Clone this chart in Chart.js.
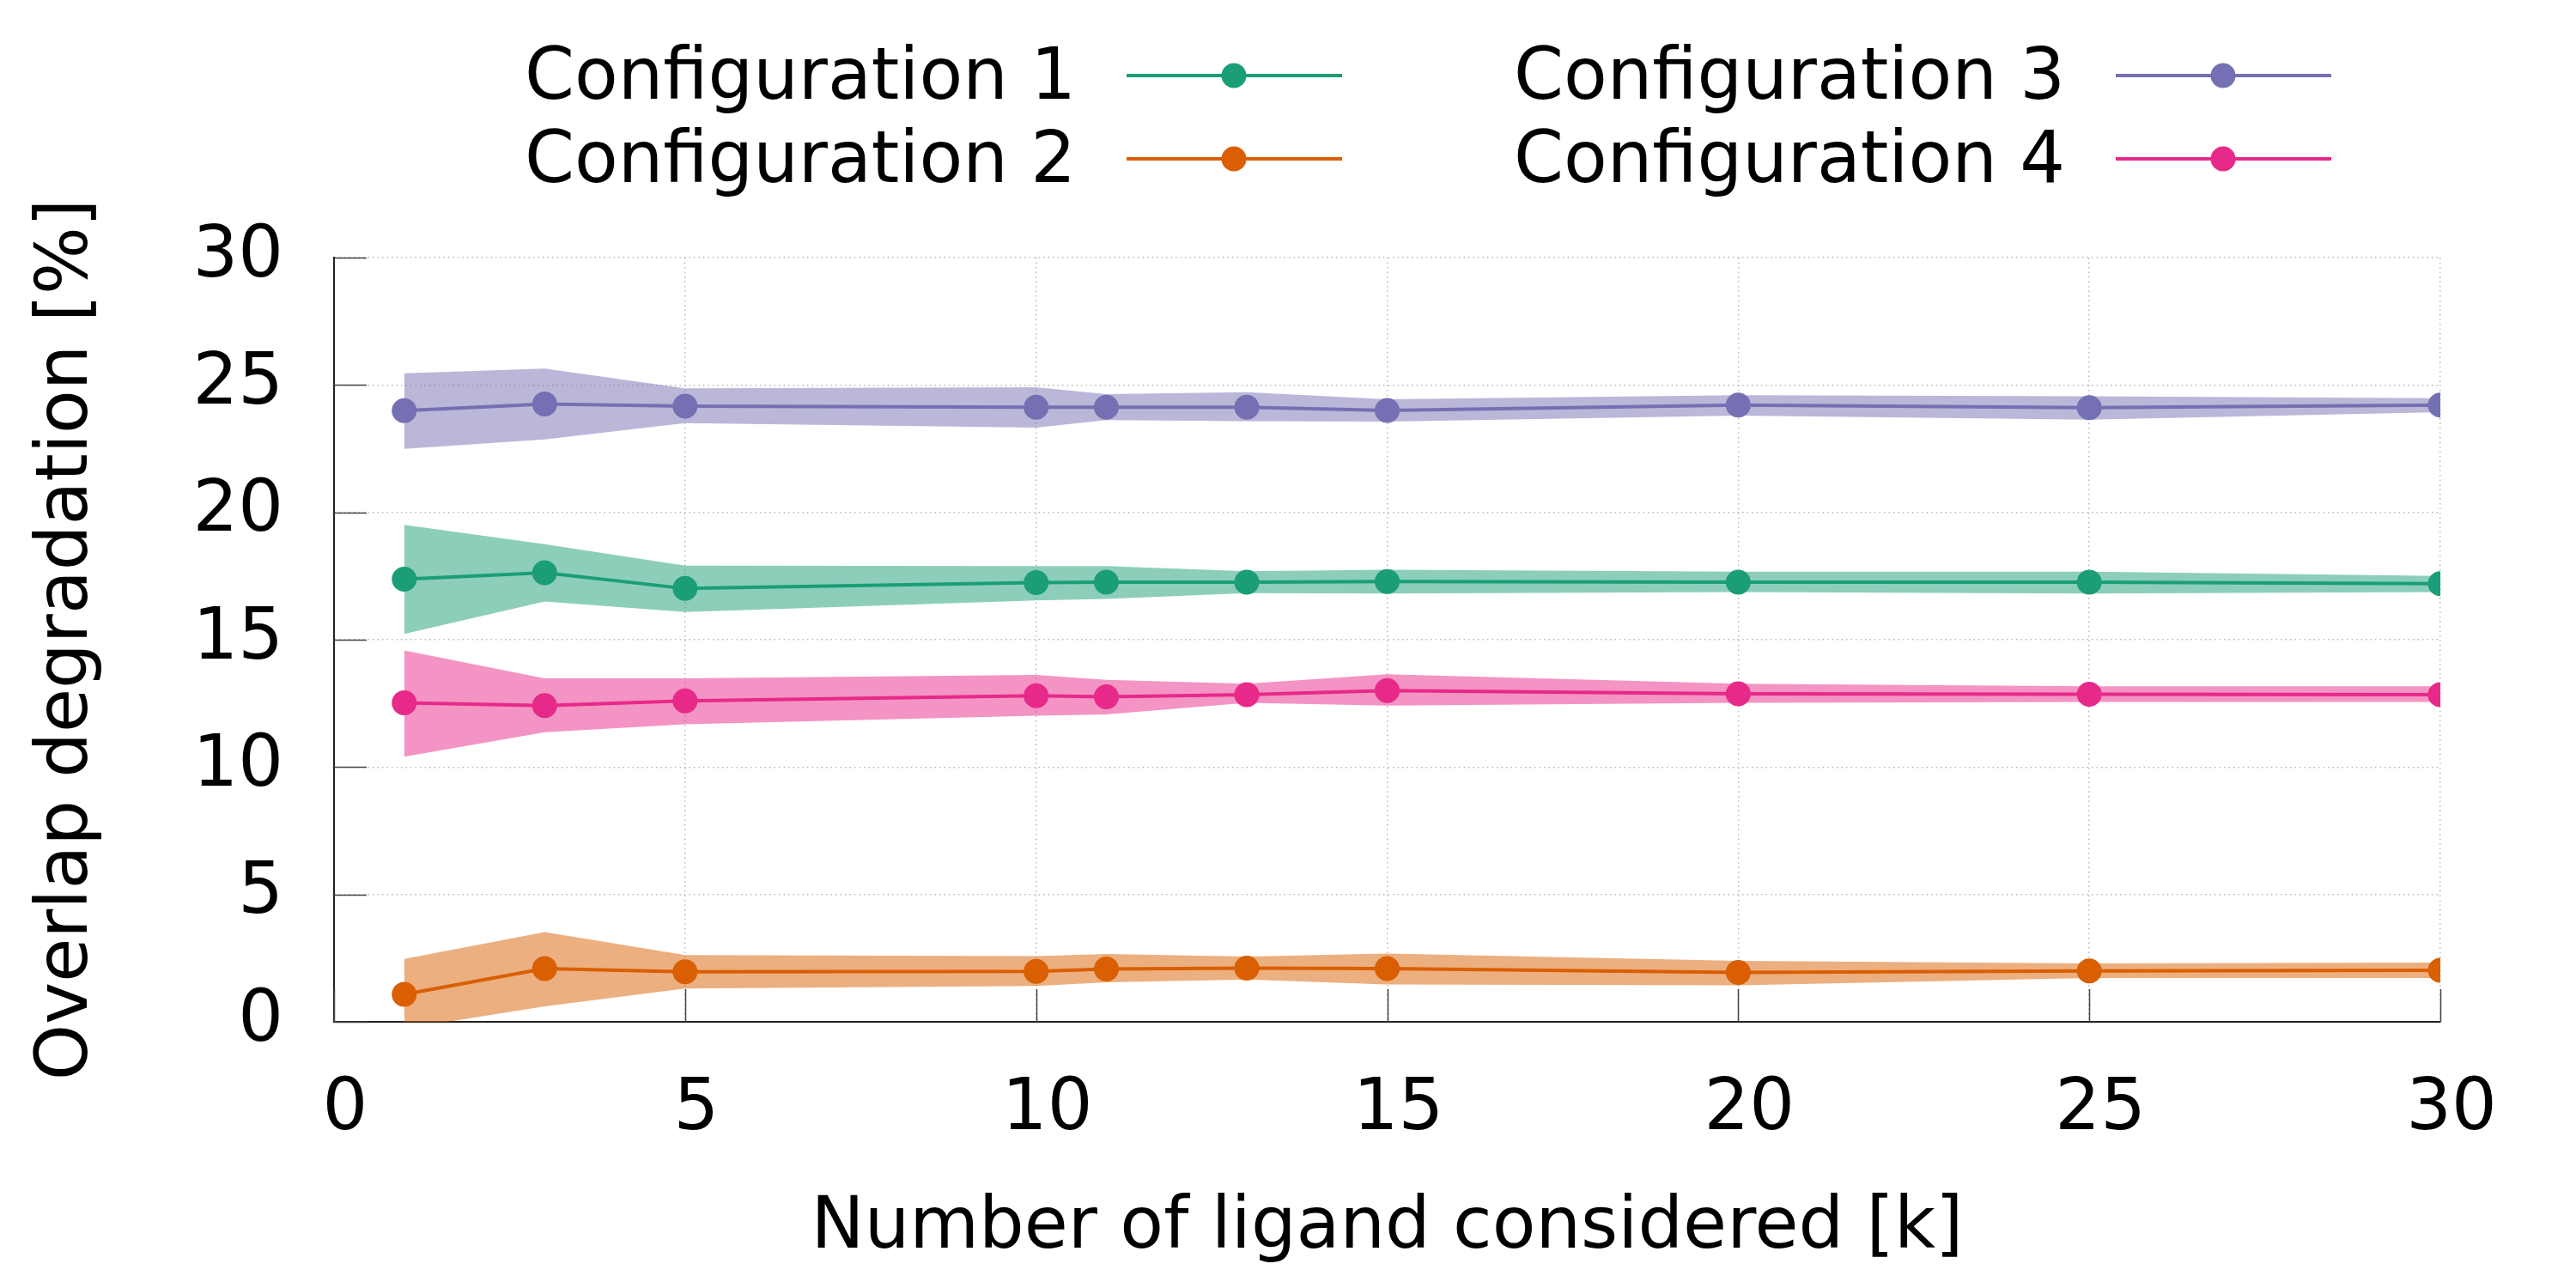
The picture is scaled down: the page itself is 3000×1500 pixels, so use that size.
<!DOCTYPE html>
<html>
<head>
<meta charset="utf-8">
<script src="https://cdn.jsdelivr.net/npm/chart.js@4.4.0/dist/chart.umd.min.js"></script>
<style>
  html, body { margin: 0; padding: 0; background: #fff; }
  #wrap { width: 3000px; height: 1500px; }
</style>
</head>
<body>
<div id="wrap"><canvas id="overlapChart" width="3000" height="1500"></canvas></div>
<script>
  // values
  const kValues = [1, 3, 5, 10, 11, 13, 15, 20, 25, 30];
  const seriesNames = ["Configuration 1", "Configuration 2", "Configuration 3", "Configuration 4"];
  const seriesColors = ["#1b9e77", "#d95f02", "#7570b3", "#e7298a"];
  const bandColors = ["rgba(27,158,119,0.5)", "rgba(217,95,2,0.5)", "rgba(117,112,179,0.5)", "rgba(231,41,138,0.5)"];

  const conf1Mean = [17.38, 17.63, 17.01, 17.24, 17.26, 17.26, 17.28, 17.26, 17.26, 17.20];
  const conf1Low  = [15.23, 16.50, 16.09, 16.54, 16.60, 16.83, 16.81, 16.87, 16.81, 16.87];
  const conf1High = [19.51, 18.75, 17.91, 17.89, 17.89, 17.69, 17.75, 17.67, 17.67, 17.50];

  const conf2Mean = [1.08, 2.09, 1.96, 1.98, 2.07, 2.11, 2.09, 1.94, 2.00, 2.02];
  const conf2Low  = [-0.27, 0.61, 1.31, 1.41, 1.55, 1.66, 1.47, 1.43, 1.72, 1.72];
  const conf2High = [2.47, 3.52, 2.62, 2.58, 2.66, 2.56, 2.68, 2.39, 2.29, 2.33];

  const conf3Mean = [23.99, 24.25, 24.17, 24.13, 24.13, 24.13, 24.00, 24.21, 24.11, 24.21];
  const conf3Low  = [22.49, 22.86, 23.50, 23.33, 23.62, 23.58, 23.56, 23.80, 23.64, 23.93];
  const conf3High = [25.46, 25.64, 24.87, 24.91, 24.64, 24.72, 24.44, 24.60, 24.56, 24.48];

  const conf4Mean = [12.52, 12.41, 12.60, 12.80, 12.76, 12.84, 13.00, 12.88, 12.86, 12.84];
  const conf4Low  = [10.41, 11.37, 11.68, 12.02, 12.07, 12.52, 12.41, 12.52, 12.56, 12.56];
  const conf4High = [14.58, 13.48, 13.48, 13.62, 13.42, 13.27, 13.64, 13.27, 13.17, 13.17];

  const xTicks = [0, 5, 10, 15, 20, 25, 30];
  const yTicks = [0, 5, 10, 15, 20, 25, 30];

  const means = [conf1Mean, conf2Mean, conf3Mean, conf4Mean];
  const lows = [conf1Low, conf2Low, conf3Low, conf4Low];
  const highs = [conf1High, conf2High, conf3High, conf4High];

  const FONT = "'DejaVu Sans', 'Liberation Sans', sans-serif";
  const FONT_SIZE = 83;
  const toPoints = arr => arr.map((v, i) => ({ x: kValues[i], y: v }));

  const datasets = [];
  // lines with markers, on top
  means.forEach((m, i) => {
    datasets.push({
      label: seriesNames[i],
      isMain: true,
      data: toPoints(m),
      borderColor: seriesColors[i],
      backgroundColor: seriesColors[i],
      borderWidth: 4,
      pointRadius: 14.5,
      pointHoverRadius: 14.5,
      pointBorderWidth: 0,
      fill: false,
      tension: 0,
      order: 0
    });
  });
  // shaded bands, behind
  highs.forEach((h, i) => {
    datasets.push({
      label: seriesNames[i] + " high",
      data: toPoints(h),
      borderWidth: 0,
      borderColor: "rgba(0,0,0,0)",
      backgroundColor: bandColors[i],
      pointRadius: 0,
      fill: "+1",
      tension: 0,
      order: 1
    });
    datasets.push({
      label: seriesNames[i] + " low",
      data: toPoints(lows[i]),
      borderWidth: 0,
      borderColor: "rgba(0,0,0,0)",
      backgroundColor: bandColors[i],
      pointRadius: 0,
      fill: false,
      tension: 0,
      order: 1
    });
  });

  // gnuplot-like inward tick marks
  const innerTicks = {
    id: "innerTicks",
    afterDatasetsDraw(chart) {
      const { ctx, chartArea, scales } = chart;
      const len = 38;
      ctx.save();
      ctx.strokeStyle = "#444";
      ctx.lineWidth = 1.5;
      ctx.beginPath();
      yTicks.forEach(v => {
        const y = Math.round(scales.y.getPixelForValue(v)) + 0.5;
        ctx.moveTo(chartArea.left, y);
        ctx.lineTo(chartArea.left + len, y);
      });
      xTicks.forEach(v => {
        const x = Math.round(scales.x.getPixelForValue(v)) + 0.5;
        ctx.moveTo(x, chartArea.bottom);
        ctx.lineTo(x, chartArea.bottom - len);
      });
      ctx.stroke();
      ctx.restore();
    }
  };

  // legend: text first, then line sample with a marker
  const sampleLegend = {
    id: "sampleLegend",
    afterDraw(chart) {
      const ctx = chart.ctx;
      const main = chart.data.datasets.filter(d => d.isMain);
      const colRight = [1253, 2405];
      const rowY = [88, 185];
      ctx.save();
      ctx.font = FONT_SIZE + "px " + FONT;
      ctx.textAlign = "right";
      ctx.textBaseline = "middle";
      main.forEach((ds, i) => {
        const col = Math.floor(i / 2);
        const row = i % 2;
        const tx = colRight[col];
        const y = rowY[row];
        ctx.fillStyle = "#000";
        ctx.fillText(ds.label, tx, y + 5);
        ctx.strokeStyle = ds.borderColor;
        ctx.lineWidth = 4;
        ctx.beginPath();
        ctx.moveTo(tx + 59, y);
        ctx.lineTo(tx + 310, y);
        ctx.stroke();
        ctx.fillStyle = ds.backgroundColor;
        ctx.beginPath();
        ctx.arc(tx + 184, y, 14.5, 0, Math.PI * 2);
        ctx.fill();
      });
      ctx.restore();
    }
  };

  const gridStyle = {
    color: "#b8b8b8",
    lineWidth: 1.5,
    drawTicks: false,
    tickLength: 0
  };

  new Chart(document.getElementById("overlapChart").getContext("2d"), {
    type: "line",
    data: { datasets },
    plugins: [innerTicks, sampleLegend],
    options: {
      responsive: false,
      devicePixelRatio: 1,
      animation: false,
      events: [],
      layout: { padding: { top: 300, right: 158, bottom: 0, left: 0 } },
      plugins: {
        legend: { display: false },
        tooltip: { enabled: false },
        filler: { propagate: false }
      },
      scales: {
        x: {
          type: "linear",
          min: 0,
          max: 30,
          afterFit: s => { s.height = 310; },
          afterBuildTicks: s => { s.ticks = xTicks.map(v => ({ value: v })); },
          grid: gridStyle,
          border: { display: true, color: "#222", width: 2, dash: [1.5, 4] },
          ticks: {
            color: "#000",
            font: { family: FONT, size: FONT_SIZE },
            padding: 54,
            labelOffset: 13,
            maxRotation: 0
          },
          title: {
            display: true,
            text: "Number of ligand considered [k]",
            color: "#000",
            font: { family: FONT, size: FONT_SIZE },
            padding: { top: 0, bottom: 19 }
          }
        },
        y: {
          type: "linear",
          min: 0,
          max: 30,
          afterFit: s => { s.width = 389; },
          afterBuildTicks: s => { s.ticks = yTicks.map(v => ({ value: v })); },
          grid: gridStyle,
          border: { display: true, color: "#222", width: 2, dash: [1.5, 4] },
          ticks: {
            color: "#000",
            font: { family: FONT, size: FONT_SIZE },
            padding: 59
          },
          title: {
            display: true,
            text: "Overlap degradation [%]",
            color: "#000",
            font: { family: FONT, size: FONT_SIZE },
            padding: { top: 30, bottom: 0 }
          }
        }
      }
    }
  });
</script>
</body>
</html>
